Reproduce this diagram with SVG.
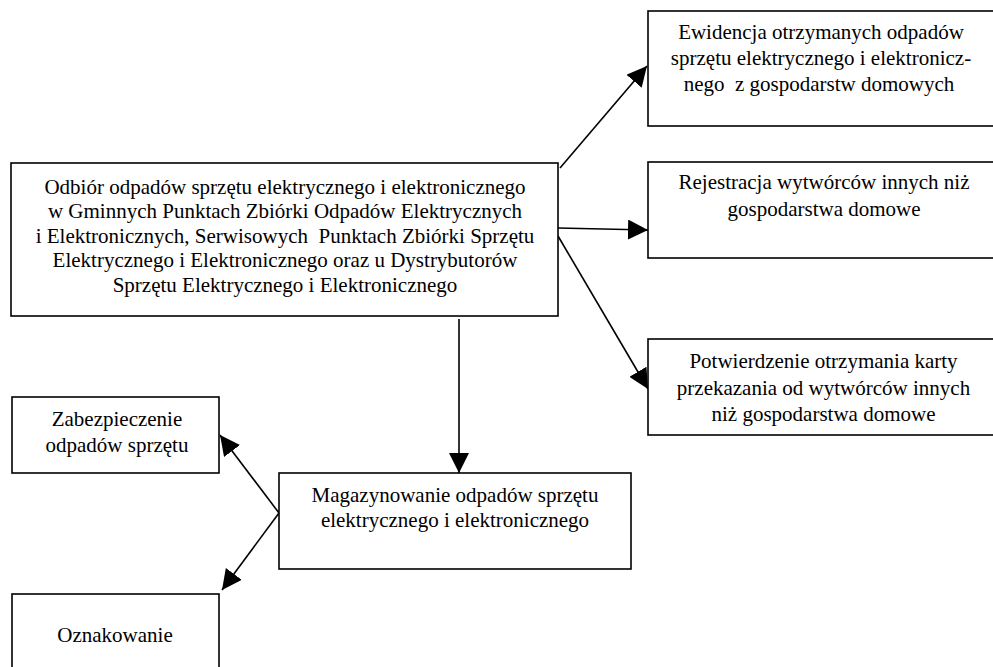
<svg xmlns="http://www.w3.org/2000/svg" width="993" height="667" viewBox="0 0 993 667">
  <defs>
    <marker id="arrow" viewBox="0 0 20 20" refX="20" refY="10" markerWidth="20" markerHeight="20" markerUnits="userSpaceOnUse" orient="auto">
      <path d="M0,0 L20,10 L0,20 Z" fill="#000"/>
    </marker>
  </defs>
  <style>
    .box { fill: #fff; stroke: #000; stroke-width: 1.6; }
    .conn { stroke: #000; stroke-width: 1.6; fill: none; marker-end: url(#arrow); }
    text { font-family: "Liberation Serif", "Times New Roman", serif; font-size: 21px; fill: #000; text-anchor: middle; white-space: pre; }
  </style>
  <rect width="993" height="667" fill="#fff"/>

  <!-- connectors -->
  <g id="connectors">
    <line class="conn" x1="560" y1="168" x2="647" y2="66"/>
    <line class="conn" x1="558" y1="228" x2="648" y2="230"/>
    <line class="conn" x1="558" y1="236" x2="648" y2="389"/>
    <line class="conn" x1="459" y1="319" x2="459" y2="473"/>
    <line class="conn" x1="279" y1="513" x2="220" y2="435"/>
    <line class="conn" x1="279" y1="513" x2="222" y2="590"/>
  </g>

  <g id="odbior">
    <rect class="box" x="11" y="163" width="547" height="153"/>
    <text x="285" y="194">Odbiór odpadów sprzętu elektrycznego i elektronicznego</text>
    <text x="285" y="218">w Gminnych Punktach Zbiórki Odpadów Elektrycznych</text>
    <text x="285" y="243" xml:space="preserve">i Elektronicznych, Serwisowych  Punktach Zbiórki Sprzętu</text>
    <text x="285" y="267">Elektrycznego i Elektronicznego oraz u Dystrybutorów</text>
    <text x="285" y="292">Sprzętu Elektrycznego i Elektronicznego</text>
  </g>

  <g id="ewidencja">
    <rect class="box" x="648" y="11" width="360" height="115"/>
    <text x="821" y="39">Ewidencja otrzymanych odpadów</text>
    <text x="821" y="65">sprzętu elektrycznego i elektronicz-</text>
    <text x="819" y="91" xml:space="preserve">nego  z gospodarstw domowych</text>
  </g>

  <g id="rejestracja">
    <rect class="box" x="648" y="162" width="360" height="96"/>
    <text x="824" y="189">Rejestracja wytwórców innych niż</text>
    <text x="824" y="216">gospodarstwa domowe</text>
  </g>

  <g id="potwierdzenie">
    <rect class="box" x="648" y="339" width="360" height="96"/>
    <text x="823.5" y="368">Potwierdzenie otrzymania karty</text>
    <text x="823.5" y="394.5">przekazania od wytwórców innych</text>
    <text x="823.5" y="421">niż gospodarstwa domowe</text>
  </g>

  <g id="magazynowanie">
    <rect class="box" x="279" y="473" width="352" height="96"/>
    <text x="455" y="502">Magazynowanie odpadów sprzętu</text>
    <text x="455" y="527">elektrycznego i elektronicznego</text>
  </g>

  <g id="zabezpieczenie">
    <rect class="box" x="12" y="397" width="207" height="76"/>
    <text x="117" y="426">Zabezpieczenie</text>
    <text x="117" y="452">odpadów sprzętu</text>
  </g>

  <g id="oznakowanie">
    <rect class="box" x="12" y="594" width="207" height="90"/>
    <text x="115" y="642">Oznakowanie</text>
  </g>
</svg>
